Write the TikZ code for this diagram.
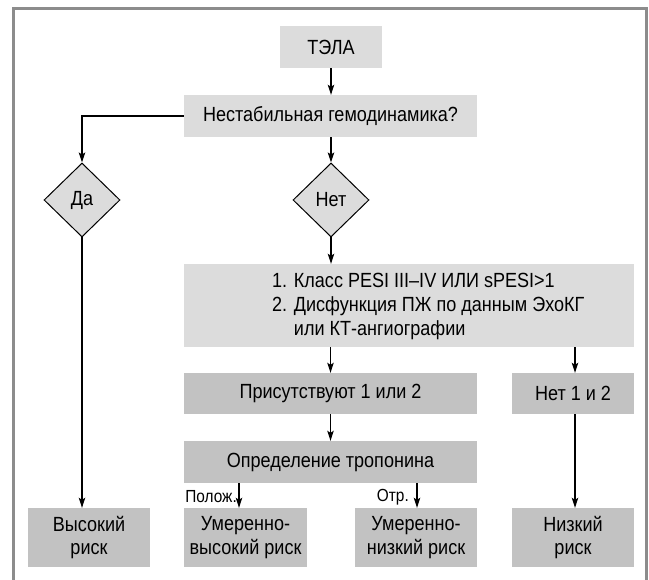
\documentclass[tikz,border=0pt]{standalone}
\usepackage{fontspec}
\setmainfont{Liberation Sans}[FakeStretch=0.88]
\usetikzlibrary{shapes.geometric,arrows.meta}
\definecolor{lightbox}{HTML}{DCDCDC}
\definecolor{darkbox}{HTML}{C2C2C2}
\definecolor{framegray}{HTML}{8C8C8C}
\begin{document}
\begin{tikzpicture}[x=1pt,y=-1pt,
  every node/.style={font=\fontsize{20.5}{23.5}\selectfont, inner sep=0pt},
  lbox/.style={rectangle, fill=lightbox, align=center},
  dbox/.style={rectangle, fill=darkbox, align=center},
  dia/.style={diamond, draw=black, line width=1pt, fill=lightbox, aspect=1.03},
  lbl/.style={font=\fontsize{17.5}{19}\selectfont},
  arr/.style={line width=1.25pt, -{Stealth[length=10pt,width=6.5pt,inset=2pt]}},
  ln/.style={line width=1.25pt}]
\useasboundingbox (0,0) rectangle (649,580);
% frame
\draw[framegray, line width=3pt] (13.5,580) -- (13.5,8.5) -- (646,8.5) -- (646,580);
% nodes
\node[lbox, minimum width=102pt, minimum height=42pt] (tela) at (331,47) {ТЭЛА};
\node[lbox, minimum width=293pt, minimum height=42pt] (q) at (330.5,116) {Нестабильная гемодинамика?};
\node[dia, minimum width=76pt, minimum height=74pt] (da) at (82,200) {Да};
\node[dia, minimum width=76pt, minimum height=74pt] (net) at (331,200) {Нет};
\node[lbox, minimum width=450pt, minimum height=83pt] (crit) at (409,305.5) {};
\node[anchor=west, align=left, font=\fontsize{20.5}{24}\selectfont] (crittext) at (272,306) {1. Класс PESI III–IV ИЛИ sPESI>1\\2. Дисфункция ПЖ по данным ЭхоКГ\\\phantom{2. }или КТ-ангиографии};
\node[dbox, minimum width=293pt, minimum height=41pt] (pres) at (330.5,393.5) {Присутствуют 1 или 2};
\node[dbox, minimum width=122pt, minimum height=41pt] (no12) at (573,393.5) {Нет 1 и 2};
\node[dbox, minimum width=293pt, minimum height=42pt] (trop) at (330.5,462) {Определение тропонина};
\node[dbox, minimum width=122pt, minimum height=59pt] (high) at (89,537.5) {Высокий\\риск};
\node[dbox, minimum width=123pt, minimum height=59pt] (modhigh) at (245.5,537.5) {Умеренно-\\высокий риск};
\node[dbox, minimum width=122pt, minimum height=59pt] (modlow) at (416,537.5) {Умеренно-\\низкий риск};
\node[dbox, minimum width=122pt, minimum height=59pt] (low) at (573,537.5) {Низкий\\риск};
% connectors
\draw[arr] (tela.south) -- (tela.south |- q.north);
\draw[arr] (q.west) -| (da.north);
\draw[arr] (q.south -| net.north) -- (net.north);
\draw[arr] (net.south) -- (net.south |- crit.north);
\draw[arr] (pres.north |- crit.south) -- (pres.north);
\draw[arr] ([xshift=2pt]no12.north |- crit.south) -- ([xshift=2pt]no12.north);
\draw[arr] (pres.south) -- (pres.south |- trop.north);
\draw[arr] ([xshift=-6.5pt]modhigh.north |- trop.south) -- ([xshift=-6.5pt]modhigh.north);
\draw[arr] ([xshift=1pt]modlow.north |- trop.south) -- ([xshift=1pt]modlow.north);
\draw[arr] ([xshift=2pt]low.north |- no12.south) -- ([xshift=2pt]low.north);
\draw[arr] (da.south) -- (da.south |- high.north);
% labels
\node[lbl, anchor=east] (pol) at (237,497) {Полож.};
\node[lbl, anchor=east] (otr) at (409,497) {Отр.};
\end{tikzpicture}
\end{document}
